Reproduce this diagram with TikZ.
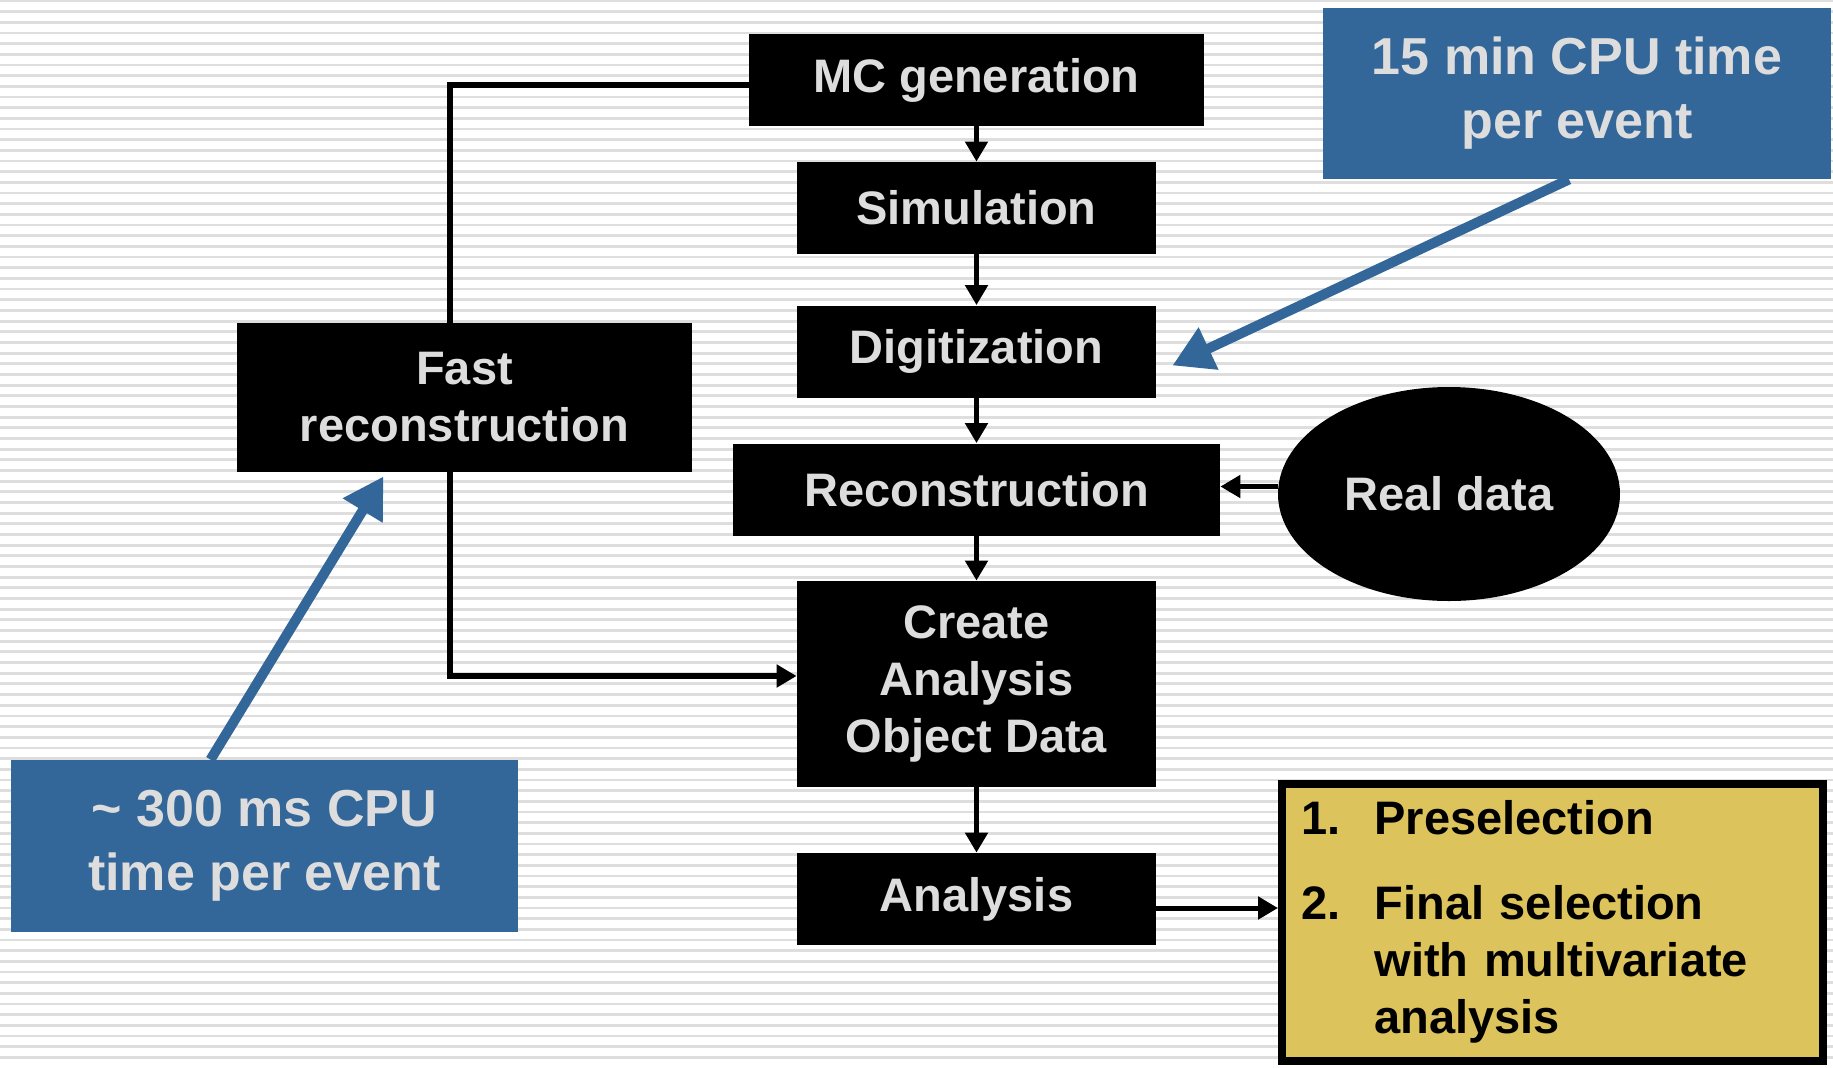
\documentclass[tikz,border=0pt]{standalone}
\usepackage{fontspec}
\setmainfont{Liberation Sans}
\usetikzlibrary{arrows.meta,positioning,shapes.geometric,backgrounds}
\definecolor{cpublue}{RGB}{51,102,153}
\definecolor{selyellow}{RGB}{221,195,92}
\definecolor{boxtext}{RGB}{221,221,221}
\definecolor{stripegray}{RGB}{222,222,222}

\begin{document}
\begin{tikzpicture}[
    x=0.5pt, y=-0.5pt,
    stage/.style={fill=black, text=boxtext, font=\bfseries\fontsize{23.5}{28.5}\selectfont, align=center, inner sep=0pt, minimum width=#1, minimum height=46pt},
    callout/.style={fill=cpublue, text=boxtext, font=\bfseries\fontsize{26}{32}\selectfont, align=center, inner sep=0pt, minimum width=#1, minimum height=86pt},
    selbox/.style={draw=black, line width=4pt, fill=selyellow, font=\bfseries\fontsize{23.5}{28.5}\selectfont, text width=251pt, align=left, inner xsep=9.5pt, inner ysep=0pt, minimum height=138.5pt},
    stripe/.style={stripegray, line width=1.4pt},
    flow/.style={line width=2.5pt, -{Triangle[length=10pt,width=11pt]}},
    pointer/.style={cpublue, line width=5pt, -{Triangle[length=20pt,width=22pt]}}
]
\useasboundingbox (0,0) rectangle (1833,1067);

% striped background
\begin{scope}[on background layer]
\fill[white] (0,0) rectangle (1833,1067);
\foreach \i in {0,...,99}
  \draw[stripe] (0,1+\i*10.67) -- (1833,1+\i*10.67);
\end{scope}

% main chain
\node[stage=227.5pt] (mc) at (976.5,80) {MC generation};
\node[stage=179.5pt] (sim) at (976.5,208) {Simulation};
\node[stage=179.5pt] (digit) at (976.5,351.5) {Digitization};
\node[stage=243.5pt] (recon) at (976.5,489.5) {Reconstruction};
\node[stage=179.5pt, minimum height=103pt] (aod) at (976.5,684) {Create\\Analysis\\Object Data};
\node[stage=179.5pt] (ana) at (976.5,899) {Analysis};

% side branches
\node[stage=227.5pt, minimum height=74.5pt] (fast) at (464.5,397.5) {Fast\\reconstruction};
\node[ellipse, fill=black, text=boxtext, font=\bfseries\fontsize{23.5}{28.5}\selectfont, inner sep=0pt, minimum width=171pt, minimum height=107pt] (real) at (1449,494) {Real data};
\node[selbox, minimum width=270.5pt, minimum height=138.5pt] (sel) at (1552.5,922.5) {\noindent\raisebox{-2.5pt}{\begin{tabular}{@{}p{36.5pt}@{}l@{}}1. & Preselection\\[14pt] 2. & Final selection\\ & with multivariate\\ & analysis\end{tabular}}};

% CPU notes
\node[callout=254pt, minimum height=85.5pt] (cpu15) at (1577,93.5) {15 min CPU time\\per event};
\node[callout=253.5pt] (cpu300) at (264.5,846) {\textasciitilde{} 300 ms CPU\\time per event};

\draw[flow] (mc) -- (sim);
\draw[flow] (sim) -- (digit);
\draw[flow] (digit) -- (recon);
\draw[flow] (recon) -- (aod);
\draw[flow] (aod) -- (ana);
\draw[flow] ([yshift=1.5pt]real.west |- recon.east) -- ([yshift=1.5pt]recon.east);
\draw[flow] ([yshift=-4.5pt]ana.east) -- ([yshift=-4.5pt]sel.west |- ana.east);

% fast path behind the box
\begin{scope}[on background layer]
\draw[flow, line width=3pt] ([yshift=-2.5pt]mc.west) -| ([xshift=-7.5pt]fast.center) |- ([yshift=4pt]aod.west);
\end{scope}

\draw[pointer] ([xshift=-4pt]cpu15.south) -- ([shift={(8pt,-7pt)}]digit.east);
\draw[pointer] ([xshift=-27pt]cpu300.north) -- ([shift={(-40.5pt,-2pt)}]fast.south);
\end{tikzpicture}
\end{document}
